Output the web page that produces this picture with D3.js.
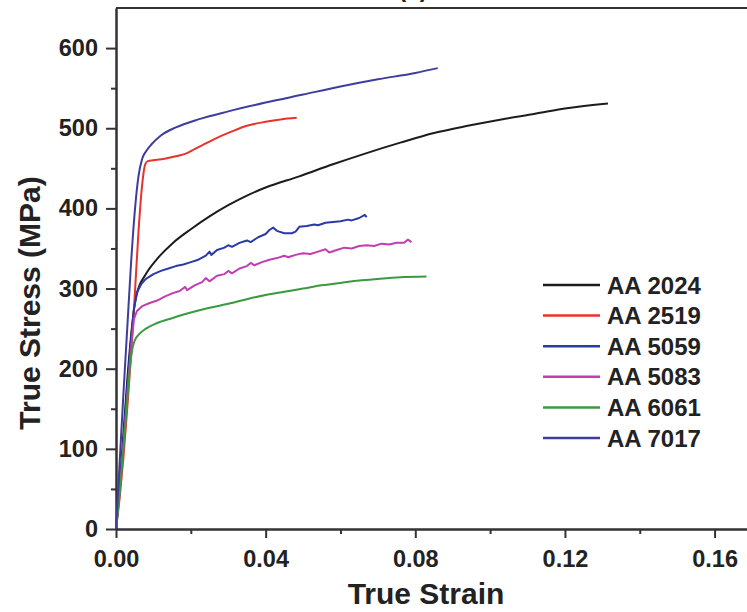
<!DOCTYPE html>
<html>
<head>
<meta charset="utf-8">
<script src="https://cdn.jsdelivr.net/npm/d3@7"></script>
<style>
  body { margin: 0; background: #fff; }
  svg text { font-family: "Liberation Sans", Arial, sans-serif; font-weight: bold; fill: #222; }
</style>
</head>
<body>
<svg id="chart" width="747" height="612"></svg>
<script>
// stress-strain curves: [true strain, true stress MPa]
var aa2024 = [[0,0],[0.001,55],[0.002,120],[0.003,185],[0.004,240],[0.005,280],[0.0056,294],[0.008,318],[0.011,337],
  [0.015,356],[0.02,374],[0.025,390],[0.03,404],[0.035,416],[0.04,426],[0.049,440],[0.058,455],[0.067,469],
  [0.076,482],[0.085,494],[0.094,503],[0.103,511],[0.112,518],[0.1205,525],[0.1315,531]]
var aa2519 = [[0,0],[0.001,40],[0.002,90],[0.003,150],[0.004,215],[0.005,290],[0.006,370],[0.007,430],[0.0078,455],
  [0.0085,459],[0.01,460],[0.013,462],[0.016,465],[0.019,469],[0.021,474],[0.024,481],[0.027,488],[0.031,496],
  [0.035,503],[0.04,508],[0.044,511],[0.0483,513]]
var aa5059 = [[0,0],[0.001,50],[0.002,110],[0.003,175],[0.004,235],[0.0048,275],[0.0056,295],[0.0068,306],[0.008,312],
  [0.01,318],[0.012,322],[0.014,325],[0.016,328],[0.018,330],[0.02,333],[0.022,336],[0.024,341],[0.025,346],
  [0.0255,342],[0.027,348],[0.029,351],[0.03,354],[0.031,352],[0.033,357],[0.035,360],[0.036,358],[0.038,364],
  [0.04,368],[0.041,373],[0.042,376],[0.043,372],[0.045,369],[0.047,369],[0.048,371],[0.049,377],[0.051,378],
  [0.053,380],[0.054,379],[0.056,382],[0.058,383],[0.06,384],[0.062,386],[0.063,385],[0.065,388],[0.0665,392],[0.067,389]]
var aa5083 = [[0,0],[0.001,50],[0.002,105],[0.003,165],[0.004,225],[0.0048,262],[0.0056,272],[0.007,278],[0.009,282],
  [0.011,285],[0.013,290],[0.015,294],[0.017,297],[0.0185,302],[0.019,298],[0.021,304],[0.023,308],[0.024,313],
  [0.025,309],[0.027,316],[0.029,318],[0.03,322],[0.031,319],[0.033,325],[0.035,328],[0.036,332],[0.037,329],
  [0.039,333],[0.041,336],[0.043,338],[0.045,341],[0.046,339],[0.048,342],[0.05,344],[0.052,343],[0.054,346],
  [0.056,349],[0.057,345],[0.059,348],[0.061,351],[0.063,350],[0.065,353],[0.067,354],[0.069,353],[0.071,356],
  [0.073,355],[0.075,357],[0.077,357],[0.078,361],[0.079,358]]
var aa6061 = [[0,0],[0.001,45],[0.002,100],[0.003,160],[0.0038,205],[0.0043,223],[0.005,235],[0.0064,244],[0.008,250],
  [0.011,257],[0.015,263],[0.02,270],[0.025,276],[0.03,281],[0.036,288],[0.04,292],[0.045,296],[0.05,300],
  [0.055,304],[0.06,307],[0.065,310],[0.07,312],[0.076,314],[0.083,315]]
var aa7017 = [[0,0],[0.001,85],[0.002,170],[0.003,250],[0.004,330],[0.005,395],[0.006,440],[0.007,462],[0.008,471],
  [0.0095,480],[0.012,491],[0.016,501],[0.022,511],[0.03,521],[0.04,532],[0.05,542],[0.06,552],[0.07,561],
  [0.08,569],[0.086,575]]

var names = ['AA 2024', 'AA 2519', 'AA 5059', 'AA 5083', 'AA 6061', 'AA 7017']
var curves = [aa2024, aa2519, aa5059, aa5083, aa6061, aa7017]
var colors = ['#1c1c1c', '#e8322c', '#2b3aa8', '#c23db0', '#3a9a3e', '#3d3d9e']
var serrated = [false, false, true, true, false, false]

var xTicks = [0, 0.04, 0.08, 0.12, 0.16]
var xMinor = [0.02, 0.06, 0.1, 0.14]
var yTicks = [0, 100, 200, 300, 400, 500, 600]
var yMinor = [50, 150, 250, 350, 450, 550]

var svg = d3.select('#chart')
var x = d3.scaleLinear().domain([0, 0.17]).range([116, 752])
var y = d3.scaleLinear().domain([0, 650]).range([529, 8])

// minor ticks first
svg.append('g').attr('transform', 'translate(0,529)')
  .call(d3.axisBottom(x).tickValues(xMinor).tickSize(5).tickSizeOuter(0).tickFormat(''))
svg.append('g').attr('transform', 'translate(116,0)')
  .call(d3.axisLeft(y).tickValues(yMinor).tickSize(5).tickSizeOuter(0).tickFormat(''))

svg.append('g').attr('transform', 'translate(0,529)')
  .call(d3.axisBottom(x).tickValues(xTicks).tickSize(9).tickSizeOuter(0).tickPadding(12)
    .tickFormat(d3.format('.2f')))
svg.append('g').attr('transform', 'translate(116,0)')
  .call(d3.axisLeft(y).tickValues(yTicks).tickSize(10).tickSizeOuter(0).tickPadding(8))

svg.selectAll('.domain').attr('stroke', '#333').attr('stroke-width', 2)
svg.selectAll('.tick line').attr('stroke', '#333').attr('stroke-width', 2)
svg.selectAll('.tick text').style('font-size', '23.5px').attr('fill', '#222')

// top frame
svg.append('line').attr('x1', x(0)).attr('x2', x(0.17)).attr('y1', y(650)).attr('y2', y(650))
  .attr('stroke', '#333').attr('stroke-width', 2)

var smooth = d3.line().curve(d3.curveMonotoneX)
  .x(function(d) { return x(d[0]) }).y(function(d) { return y(d[1]) })
var rough = d3.line()
  .x(function(d) { return x(d[0]) }).y(function(d) { return y(d[1]) })

svg.append('g').selectAll('path')
  .data(curves)
  .enter()
  .append('path')
  .attr('d', function(d, i) { return serrated[i] ? rough(d) : smooth(d) })
  .attr('fill', 'none')
  .attr('stroke', function(d, i) { return colors[i] })
  .attr('stroke-width', 2)
  .attr('stroke-linejoin', 'round')

// legend
var leg = svg.append('g').selectAll('g')
  .data(names)
  .enter()
  .append('g')
  .attr('transform', function(d, i) { return 'translate(543,' + (285 + i * 30.6) + ')' })
leg.append('line').attr('x1', 0).attr('x2', 57)
  .attr('stroke', function(d, i) { return colors[i] }).attr('stroke-width', 2.5)
leg.append('text').attr('x', 64).attr('dy', '0.36em').style('font-size', '24px')
  .text(function(d) { return d })

// axis titles
svg.append('text').attr('x', 426).attr('y', 604).attr('text-anchor', 'middle')
  .style('font-size', '30px').text('True Strain')
svg.append('text').attr('transform', 'translate(40,303) rotate(-90)').attr('text-anchor', 'middle')
  .style('font-size', '30px').text('True Stress (MPa)')

// panel tag, mostly cut off at the top like in the source figure
svg.append('text').attr('x', 413).attr('y', -3).attr('text-anchor', 'middle')
  .style('font-size', '24px').text('(a)')
</script>
</body>
</html>
